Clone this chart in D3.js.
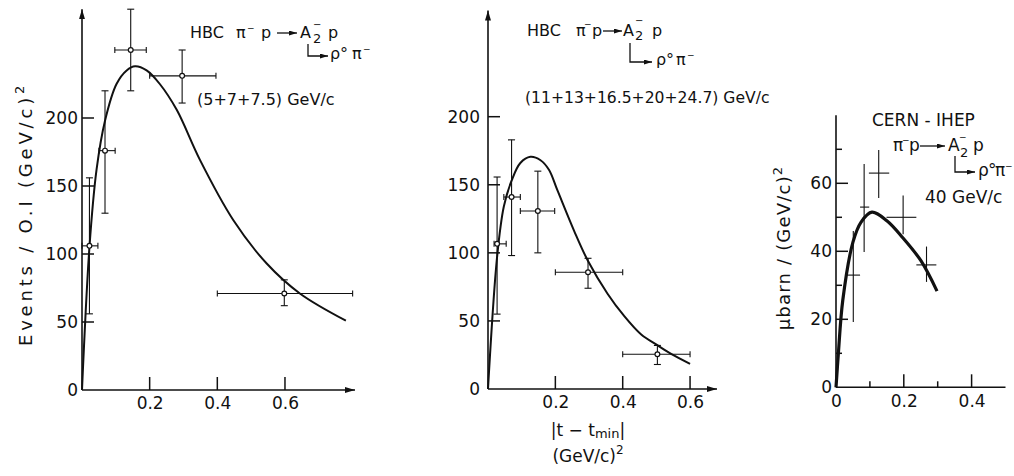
<!DOCTYPE html>
<html>
<head>
<meta charset="utf-8">
<title>A2 production t-distributions</title>
<script src="https://d3js.org/d3.v7.min.js"></script>
<style>
  body { margin: 0; background: #fff; }
  svg text { font-family: "DejaVu Sans", sans-serif; fill: #111; }
</style>
</head>
<body>
<svg id="chart"></svg>
<script>
// ---- panel 1 : HBC (5+7+7.5) GeV/c ----
const p1X    = [0.022, 0.068, 0.144, 0.296, 0.598];
const p1Y    = [106, 176, 250, 231, 71];
const p1XLo  = [0.0, 0.05, 0.097, 0.2, 0.4];
const p1XHi  = [0.047, 0.098, 0.19, 0.396, 0.8];
const p1YLo  = [56, 130, 220, 211, 62];
const p1YHi  = [156, 220, 280, 250, 81];
const p1CurveX = [0, 0.022, 0.043, 0.068, 0.102, 0.132, 0.157, 0.191, 0.23, 0.28, 0.349, 0.447, 0.546, 0.644, 0.78];
const p1CurveY = [0, 105, 162, 198, 225, 235, 238, 235, 225, 206, 169, 125, 93, 71, 51];
const p1XTicks = [0.2, 0.4, 0.6];
const p1YTicks = [0, 50, 100, 150, 200];

// ---- panel 2 : HBC (11+13+16.5+20+24.7) GeV/c ----
const p2X    = [0.027, 0.07, 0.148, 0.297, 0.503];
const p2Y    = [106.6, 141, 130.7, 85.7, 25.5];
const p2XLo  = [0.018, 0.047, 0.096, 0.2, 0.4];
const p2XHi  = [0.054, 0.096, 0.198, 0.4, 0.6];
const p2YLo  = [55, 98, 100, 74, 18];
const p2YHi  = [155.7, 183, 160, 96, 32];
const p2CurveX = [0, 0.027, 0.047, 0.07, 0.096, 0.126, 0.156, 0.181, 0.206, 0.256, 0.297, 0.355, 0.403, 0.455, 0.504, 0.545, 0.6];
const p2CurveY = [0, 97, 134, 153, 166, 170.5, 168, 161, 146, 116, 94, 70, 54, 40, 32, 25.6, 18.5];
const p2XTicks = [0.2, 0.4, 0.6];
const p2YTicks = [0, 50, 100, 150, 200];

// ---- panel 3 : CERN-IHEP 40 GeV/c ----
const p3X    = [0.051, 0.083, 0.126, 0.198, 0.267];
const p3Y    = [33, 53, 63, 50, 36];
const p3XLo  = [0.031, 0.071, 0.097, 0.149, 0.237];
const p3XHi  = [0.071, 0.098, 0.157, 0.237, 0.296];
const p3YLo  = [19.2, 39.8, 55.7, 45, 31];
const p3YHi  = [46, 65.7, 69.8, 56.4, 41.4];
const p3CurveX = [0, 0.007, 0.02, 0.05, 0.074, 0.106, 0.15, 0.197, 0.25, 0.298];
const p3CurveY = [0, 10, 25.6, 42.7, 48.6, 51.5, 49, 44, 37.3, 28.3];
const p3XTicks = [0, 0.2, 0.4];
const p3XMinor = [0.1, 0.3];
const p3YTicks = [0, 20, 40, 60];
const p3YMinor = [10, 30, 50, 70];

const width = 1014, height = 476;
const ink = "#111";

const svg = d3.select("#chart").attr("width", width).attr("height", height);

const defs = svg.append("defs");
defs.append("marker").attr("id", "arrow")
    .attr("viewBox", "0 0 10 6").attr("refX", 10).attr("refY", 3)
    .attr("markerWidth", 10).attr("markerHeight", 6)
    .attr("markerUnits", "userSpaceOnUse").attr("orient", "auto")
  .append("path").attr("d", "M0,0L10,3L0,6Z").attr("fill", ink);
defs.append("marker").attr("id", "arrowSmall")
    .attr("viewBox", "0 0 8 5").attr("refX", 8).attr("refY", 2.5)
    .attr("markerWidth", 8).attr("markerHeight", 5)
    .attr("markerUnits", "userSpaceOnUse").attr("orient", "auto")
  .append("path").attr("d", "M0,0L8,2.5L0,5Z").attr("fill", ink);

const panels = [
    {px: p1X, py: p1Y, xlo: p1XLo, xhi: p1XHi, ylo: p1YLo, yhi: p1YHi, cx: p1CurveX, cy: p1CurveY,
     xDomain: [0, 0.807], xRange: [82, 355], yDomain: [0, 280], yRange: [390, 9.2],
     xTicks: p1XTicks, yTicks: p1YTicks, xMinor: [], yMinor: [],
     xPad: 7, yPad: 4, arrows: true, caps: true, circles: true, curveW: 2},
    {px: p2X, py: p2Y, xlo: p2XLo, xhi: p2XHi, ylo: p2YLo, yhi: p2YHi, cx: p2CurveX, cy: p2CurveY,
     xDomain: [0, 0.68], xRange: [488, 717], yDomain: [0, 278], yRange: [389, 10.5],
     xTicks: p2XTicks, yTicks: p2YTicks, xMinor: [], yMinor: [],
     xPad: 7, yPad: 8, arrows: true, caps: true, circles: true, curveW: 2},
    {px: p3X, py: p3Y, xlo: p3XLo, xhi: p3XHi, ylo: p3YLo, yhi: p3YHi, cx: p3CurveX, cy: p3CurveY,
     xDomain: [0, 0.5], xRange: [836, 1005.5], yDomain: [0, 80], yRange: [387.3, 115.3],
     xTicks: p3XTicks, yTicks: p3YTicks, xMinor: p3XMinor, yMinor: p3YMinor,
     xPad: 8, yPad: 4, arrows: false, caps: false, circles: false, curveW: 3.2}
];

function xFmt(d) { return d === 0 ? "0" : d3.format(".1f")(d); }

function drawPanel(c) {
    const x = d3.scaleLinear().domain(c.xDomain).range(c.xRange);
    const y = d3.scaleLinear().domain(c.yDomain).range(c.yRange);
    const g = svg.append("g");

    // axis lines (arrow heads on the HBC panels)
    g.append("line")
        .attr("x1", x(0)).attr("y1", y(0))
        .attr("x2", x(c.xDomain[1])).attr("y2", y(0))
        .attr("stroke", ink).attr("stroke-width", 1.6)
        .attr("marker-end", c.arrows ? "url(#arrow)" : null);
    g.append("line")
        .attr("x1", x(0)).attr("y1", y(0))
        .attr("x2", x(0)).attr("y2", y(c.yDomain[1]))
        .attr("stroke", ink).attr("stroke-width", 1.6)
        .attr("marker-end", c.arrows ? "url(#arrow)" : null);

    // tick marks, pointing inward
    const xt = c.xTicks.filter(d => d !== 0).map(d => ({v: d, len: 13}))
        .concat(c.xMinor.map(d => ({v: d, len: 6})));
    const yt = c.yTicks.filter(d => d !== 0).map(d => ({v: d, len: 12}))
        .concat(c.yMinor.map(d => ({v: d, len: 6})));
    xt.forEach(t => g.append("line")
        .attr("x1", x(t.v)).attr("x2", x(t.v))
        .attr("y1", y(0)).attr("y2", y(0) - t.len)
        .attr("stroke", ink).attr("stroke-width", 1.5));
    yt.forEach(t => g.append("line")
        .attr("x1", x(0)).attr("x2", x(0) + t.len)
        .attr("y1", y(t.v)).attr("y2", y(t.v))
        .attr("stroke", ink).attr("stroke-width", 1.5));

    // tick labels
    const ax = g.append("g").attr("transform", `translate(0,${y(0)})`)
        .call(d3.axisBottom(x).tickValues(c.xTicks).tickSize(0).tickPadding(c.xPad).tickFormat(xFmt));
    const ay = g.append("g").attr("transform", `translate(${x(0)},0)`)
        .call(d3.axisLeft(y).tickValues(c.yTicks).tickSize(0).tickPadding(c.yPad).tickFormat(d3.format("d")));
    [ax, ay].forEach(a => {
        a.select(".domain").remove();
        a.selectAll(".tick line").remove();
        a.attr("font-size", 17).attr("font-family", null);
        a.selectAll("text").attr("fill", ink);
    });

    // fitted curve
    const pts = c.cx.map((v, i) => [v, c.cy[i]]);
    g.append("path")
        .datum(pts)
        .attr("fill", "none")
        .attr("stroke", ink)
        .attr("stroke-width", c.curveW)
        .attr("stroke-linejoin", "round")
        .attr("d", d3.line().x(d => x(d[0])).y(d => y(d[1])).curve(d3.curveCatmullRom.alpha(0.5)));

    // data points with error bars
    const data = c.px.map((v, i) => ({x: v, y: c.py[i], xlo: c.xlo[i], xhi: c.xhi[i], ylo: c.ylo[i], yhi: c.yhi[i]}));
    const pg = g.selectAll(".pt").data(data).join("g").attr("class", "pt")
        .attr("stroke", ink).attr("stroke-width", 1.1);
    pg.append("line")
        .attr("x1", d => x(d.xlo)).attr("x2", d => x(d.xhi))
        .attr("y1", d => y(d.y)).attr("y2", d => y(d.y));
    pg.append("line")
        .attr("x1", d => x(d.x)).attr("x2", d => x(d.x))
        .attr("y1", d => y(d.ylo)).attr("y2", d => y(d.yhi));
    if (c.caps) {
        ["ylo", "yhi"].forEach(k => pg.append("line")
            .attr("x1", d => x(d.x) - 3.5).attr("x2", d => x(d.x) + 3.5)
            .attr("y1", d => y(d[k])).attr("y2", d => y(d[k])));
        ["xlo", "xhi"].forEach(k => pg.append("line")
            .attr("x1", d => x(d[k])).attr("x2", d => x(d[k]))
            .attr("y1", d => y(d.y) - 3).attr("y2", d => y(d.y) + 3));
    }
    if (c.circles) {
        pg.append("circle")
            .attr("cx", d => x(d.x)).attr("cy", d => y(d.y))
            .attr("r", 2.4).attr("fill", "#fff").attr("stroke-width", 1.2);
    }
}

panels.forEach(drawPanel);

// ---- text annotations ----
function label(size, parts) {
    const t = svg.append("text").attr("font-size", size);
    parts.forEach(p => t.append("tspan")
        .attr("x", p[0]).attr("y", p[1])
        .attr("font-size", p[3] || null)
        .text(p[2]));
    return t;
}
function arrowLine(d, marker) {
    svg.append("path").attr("d", d).attr("fill", "none")
        .attr("stroke", ink).attr("stroke-width", 1.3)
        .attr("marker-end", `url(#${marker})`);
}

// panel 1
label(16, [[190, 38, "HBC"], [236, 38, "π"], [247, 31, "−", 9], [261, 38, "p"],
           [300, 38, "A"], [313, 28, "−", 10], [313, 43, "2", 13], [328, 38, "p"]]);
arrowLine("M277,33H297", "arrowSmall");
arrowLine("M308,44V56H328", "arrowSmall");
label(16, [[330, 59, "ρ"], [340, 59, "°"], [352, 59, "π"], [363, 52, "−", 9]]);
label(16, [[197, 105, "(5+7+7.5) GeV/c"]]);

// panel 2
label(16, [[527, 36, "HBC"], [576, 36, "π"], [584, 27, "−", 9], [592, 36, "p"],
           [623, 36, "A"], [635, 24, "−", 10], [635, 40, "2", 13], [652, 36, "p"]]);
arrowLine("M603,31H622", "arrowSmall");
arrowLine("M630,43V62H652", "arrowSmall");
label(16, [[656, 65, "ρ"], [666, 65, "°"], [676, 65, "π"], [687, 58, "−", 9]]);
label(15.6, [[525, 103, "(11+13+16.5+20+24.7) GeV/c"]]);

// panel 3
label(17, [[872, 126, "CERN - IHEP"]]);
label(17, [[893, 151, "π"], [902, 143, "−", 9], [909, 151, "p"],
           [948, 151, "A"], [959, 140, "−", 9], [960, 157, "2", 13], [973, 151, "p"]]);
arrowLine("M920,146H945", "arrowSmall");
arrowLine("M955,156V172H975", "arrowSmall");
label(17, [[978, 176, "ρ"], [988, 176, "°"], [995, 176, "π"], [1005, 169, "−", 9]]);
label(17, [[925, 203, "40 GeV/c"]]);

// axis titles
const t1 = svg.append("text")
    .attr("transform", "translate(32,214) rotate(-90)")
    .attr("text-anchor", "middle")
    .attr("font-size", 18)
    .attr("letter-spacing", 3.8);
t1.append("tspan").text("Events / O.I (GeV/c)");
t1.append("tspan").attr("font-size", 13).attr("dy", -8).text("2");

const t3 = svg.append("text")
    .attr("transform", "translate(790,248) rotate(-90)")
    .attr("text-anchor", "middle")
    .attr("font-size", 18)
    .attr("letter-spacing", 1.2);
t3.append("tspan").text("μbarn / (GeV/c)");
t3.append("tspan").attr("font-size", 13).attr("dy", -8).text("2");

const tt = svg.append("text").attr("x", 588).attr("y", 436)
    .attr("text-anchor", "middle").attr("font-size", 17);
tt.append("tspan").text("|t − t");
tt.append("tspan").attr("font-size", 13).attr("dy", 2).text("min");
tt.append("tspan").attr("dy", -2).text("|");

const tu = svg.append("text").attr("x", 588).attr("y", 462)
    .attr("text-anchor", "middle").attr("font-size", 17);
tu.append("tspan").text("(GeV/c)");
tu.append("tspan").attr("font-size", 12).attr("dy", -8).text("2");
</script>
</body>
</html>
